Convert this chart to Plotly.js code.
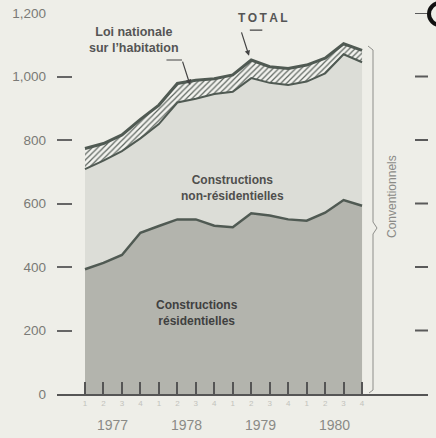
<!DOCTYPE html>
<html>
<head>
<meta charset="utf-8">
<script src="https://cdn.plot.ly/plotly-3.0.1.min.js"></script>
<style>html,body{margin:0;padding:0;background:#eeeee8;}</style>
</head>
<body>
<div id="chart" style="width:436px;height:438px;"></div>
<script>
// Quarters 1977 Q1 .. 1980 Q4
const quarterIndex = [0,1,2,3,4,5,6,7,8,9,10,11,12,13,14,15];
const quarterLabels = ['1','2','3','4','1','2','3','4','1','2','3','4','1','2','3','4'];
const years = ['1977','1978','1979','1980'];
const yearCenters = [1.5, 5.5, 9.5, 13.5];

// Values (stack components)
const residentielles    = [393, 413, 438, 508, 529, 550, 550, 530, 525, 569, 562, 550, 546, 571, 611, 593];
const nonResidentielles = [315, 322, 327, 297, 321, 368, 380, 415, 427, 426, 418, 423, 438, 439, 459, 452];
const loiNationale      = [65, 54, 51, 60, 60, 60, 58, 48, 53, 57, 51, 52, 52, 48, 33, 37];

const yTickVals = [0, 200, 400, 600, 800, 1000, 1200];
const yTickText = ['0', '200', '400', '600', '800', '1,000', '1,200'];
const rightTickVals = [200, 400, 600, 800, 1000, 1200];

const lineCol = '#505a53';

const traces = [
  {x: quarterIndex, y: residentielles, type: 'scatter', mode: 'lines', stackgroup: 'a',
   line: {color: lineCol, width: 2.5}, fillcolor: '#b3b4ad', hoverinfo: 'skip'},
  {x: quarterIndex, y: nonResidentielles, type: 'scatter', mode: 'lines', stackgroup: 'a',
   line: {color: lineCol, width: 2}, fillcolor: '#dcddd7', hoverinfo: 'skip'},
  {x: quarterIndex, y: loiNationale, type: 'scatter', mode: 'lines', stackgroup: 'a',
   line: {color: lineCol, width: 3}, fillcolor: '#f3f3ef',
   fillpattern: {shape: '/', fgcolor: '#5e6660', bgcolor: '#f3f3ef', size: 4, solidity: 0.3},
   hoverinfo: 'skip'}
];

const px = v => (v - 57) / 371;
const py = v => (394 - v) / 381;

const layout = {
  width: 436, height: 438,
  margin: {l: 57, r: 8, t: 13, b: 44},
  paper_bgcolor: '#eeeee8', plot_bgcolor: '#eeeee8',
  showlegend: false,
  font: {family: 'Liberation Sans, Arial, sans-serif'},
  xaxis: {
    range: [-1.516, 18.57], showgrid: false, zeroline: false,
    showline: true, linecolor: '#555', linewidth: 2,
    ticks: 'inside', ticklen: 12, tickwidth: 2, tickcolor: '#555',
    tickvals: quarterIndex, ticktext: quarterLabels,
    tickfont: {size: 8, color: '#c2c2bc'}, fixedrange: true
  },
  yaxis: {
    range: [0, 1200], showgrid: false, zeroline: false, showline: false,
    ticks: 'inside', ticklen: 15, tickwidth: 2, tickcolor: '#666',
    tickvals: yTickVals, ticktext: yTickText,
    tickfont: {size: 13.5, color: '#7a7a76'}, ticklabelstandoff: 10, fixedrange: true
  },
  annotations: [
    ...years.map((yr, i) => ({
      x: yearCenters[i], y: py(425), xref: 'x', yref: 'paper', text: yr, showarrow: false,
      font: {size: 14, color: '#8a8a86'}, yanchor: 'middle'
    })),
    {x: 8.0, y: 650, xref: 'x', yref: 'y', text: '<b>Constructions<br>non-résidentielles</b>',
     showarrow: false, font: {size: 12, color: '#4f4f4d'}},
    {x: 6.06, y: 255, xref: 'x', yref: 'y', text: '<b>Constructions<br>résidentielles</b>',
     showarrow: false, font: {size: 12, color: '#404040'}},
    {x: 2.65, y: 1115, xref: 'x', yref: 'y', text: '<b>Loi nationale<br>sur l\u2019habitation</b>',
     showarrow: false, font: {size: 12.5, color: '#555'}},
    {x: 9.64, y: 1184, xref: 'x', yref: 'y', text: '<b>T\u2009O\u2009T\u2009A\u2009L</b>',
     showarrow: false, font: {size: 12, color: '#555'}},
    // leader for Loi nationale
    {x: 5.69, y: 973, xref: 'x', yref: 'y', text: '', showarrow: true, ax: -8, ay: -25,
     arrowhead: 2, arrowsize: 0.9, arrowwidth: 1.2, arrowcolor: '#444'},
    {x: 5.25, y: 1052, xref: 'x', yref: 'y', text: '', showarrow: true, ax: -17, ay: 0,
     arrowhead: 0, arrowwidth: 1.2, arrowcolor: '#444'},
    // leader for TOTAL
    {x: 8.88, y: 1065, xref: 'x', yref: 'y', text: '', showarrow: true, ax: -8, ay: -25,
     arrowhead: 2, arrowsize: 0.9, arrowwidth: 1.2, arrowcolor: '#444'},
    {x: 9.6, y: 1146, xref: 'x', yref: 'y', text: '', showarrow: true, ax: -14, ay: 0,
     arrowhead: 0, arrowwidth: 1.2, arrowcolor: '#444'},
    {x: px(401), y: py(197), xref: 'paper', yref: 'paper', text: 'Conventionnels',
     textangle: -90, showarrow: false, font: {size: 12, color: '#8a8a86'}}
  ],
  shapes: [
    {type: 'path', xref: 'paper', yref: 'paper',
     path: `M ${px(368)},${py(46)} L ${px(373)},${py(50)} L ${px(373)},${py(222)} L ${px(377)},${py(228)} L ${px(373)},${py(234)} L ${px(373)},${py(390)} L ${px(369)},${py(393)}`,
     line: {color: '#8e8e8a', width: 1}},
    ...rightTickVals.map(v => ({type: 'line', xref: 'paper', yref: 'y', layer: 'above',
      x0: px(415), x1: px(428), y0: v, y1: v, line: {color: '#5a5a5a', width: 2}})),
    {type: 'circle', xref: 'paper', yref: 'paper', x0: px(429), x1: px(451), y0: py(25), y1: py(3),
     line: {color: '#111', width: 4}}
  ]
};

Plotly.newPlot('chart', traces, layout, {displayModeBar: false, staticPlot: true});
</script>
</body>
</html>
